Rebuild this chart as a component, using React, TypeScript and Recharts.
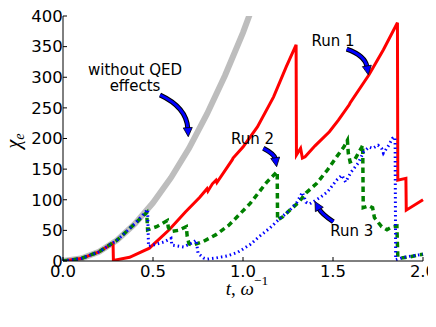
import React from 'react';
import { LineChart, Line, XAxis, YAxis, ReferenceLine, ReferenceDot, Label } from 'recharts';

const tTicks = [0, 0.5, 1.0, 1.5, 2.0];
const chiTicks = [0, 50, 100, 150, 200, 250, 300, 350, 400];

// without QED effects
const noQedT = [0, 0.1, 0.2, 0.3, 0.4, 0.5, 0.6, 0.7, 0.8, 0.9, 1.0, 1.1];
const noQedChi = [0, 4, 15, 34, 61, 95, 136, 184, 240, 303, 373, 452];

// Run 1 (red, solid)
const run1T = [0, 0.1, 0.2, 0.278, 0.28, 0.37, 0.48, 0.59, 0.68, 0.76, 0.8, 0.805, 0.83, 0.85, 0.855, 0.94, 0.945, 1.0, 1.08, 1.17, 1.24, 1.295, 1.297, 1.32, 1.33, 1.345, 1.4, 1.48, 1.53, 1.59, 1.595, 1.7, 1.78, 1.858, 1.86, 1.905, 1.907, 2.0];
const run1Chi = [0, 4, 15, 29, 1, 6, 21, 51, 80, 104, 118, 114, 126, 132, 128, 165, 168, 186, 219, 268, 317, 353, 173, 184, 168, 170, 188, 211, 230, 255, 258, 304, 345, 389, 132, 135, 83, 100];

// Run 2 (green, dashed)
const run2T = [0, 0.1, 0.2, 0.3, 0.4, 0.465, 0.47, 0.52, 0.58, 0.585, 0.6, 0.64, 0.685, 0.69, 0.7, 0.72, 0.78, 0.85, 0.92, 0.98, 1.04, 1.085, 1.13, 1.17, 1.19, 1.192, 1.22, 1.26, 1.31, 1.35, 1.41, 1.47, 1.52, 1.56, 1.58, 1.585, 1.595, 1.62, 1.66, 1.665, 1.668, 1.7, 1.72, 1.73, 1.77, 1.8, 1.83, 1.855, 1.86, 1.88, 1.93, 1.98, 2.0];
const run2Chi = [0, 4, 15, 34, 61, 79, 51, 56, 66, 55, 48, 50, 56, 40, 28, 26, 32, 43, 58, 76, 94, 111, 128, 140, 146, 67, 72, 83, 96, 111, 127, 149, 170, 186, 197, 176, 162, 165, 186, 189, 87, 90, 87, 71, 56, 51, 56, 57, 6, 5, 7, 10, 11];

// Run 3 (blue, dotted)
const run3T = [0, 0.1, 0.2, 0.3, 0.4, 0.47, 0.475, 0.5, 0.56, 0.6, 0.605, 0.67, 0.72, 0.74, 0.75, 0.78, 0.8, 0.85, 0.91, 0.97, 1.04, 1.09, 1.15, 1.2, 1.26, 1.3, 1.33, 1.35, 1.37, 1.43, 1.47, 1.52, 1.55, 1.57, 1.6, 1.64, 1.67, 1.7, 1.72, 1.75, 1.77, 1.78, 1.81, 1.83, 1.845, 1.848, 1.88, 1.91, 1.98, 2.0];
const run3Chi = [0, 4, 15, 34, 61, 84, 24, 26, 31, 37, 26, 23, 30, 34, 13, 5, 3, 5, 8, 14, 27, 40, 54, 68, 83, 96, 112, 96, 93, 104, 113, 132, 140, 129, 145, 160, 178, 186, 184, 189, 184, 176, 189, 200, 202, 2, 5, 7, 10, 11];

// annotations: text anchor (center, baseline) and arrow tail -> tip, in data units
const noteText = [['without QED', 'effects'], ['Run 1'], ['Run 2'], ['Run 3']];
const noteT = [0.4, 1.5, 1.053, 1.604];
const noteChi = [304, 351, 191, 41];
const arrowFrom = [[0.539, 271], [1.576, 346], [1.113, 184], [1.502, 64]];
const arrowTo = [[0.696, 203], [1.696, 304], [1.187, 154], [1.4, 97]];
const arrowBend = [0.3, 0.3, 0.25, 0.12];

const toPoints = (ts: number[], vs: number[]) => ts.map((t, i) => ({ t, chi: vs[i] }));

const sans = 'DejaVu Sans, sans-serif';
const mathFont = 'Liberation Serif, DejaVu Serif, serif';

const curvedArrow = (bend: number) => (p: any) => {
  const { x1, y1, x2, y2 } = p;
  const dx = x2 - x1;
  const dy = y2 - y1;
  const cx = (x1 + x2) / 2 + dy * bend;
  const cy = (y1 + y2) / 2 - dx * bend;
  let ux = x2 - cx;
  let uy = y2 - cy;
  const len = Math.hypot(ux, uy) || 1;
  ux /= len;
  uy /= len;
  const head = 9;
  const half = 4.5;
  const bx = x2 - ux * head;
  const by = y2 - uy * head;
  const body = `M${x1},${y1} Q${cx},${cy} ${bx + ux},${by + uy}`;
  const tip = `M${x2},${y2} L${bx - uy * half},${by + ux * half} L${bx + uy * half},${by - ux * half} Z`;
  return (
    <g>
      <path d={body} fill="none" stroke="#000" strokeWidth={5} />
      <path d={body} fill="none" stroke="#0000ff" strokeWidth={3} />
      <path d={tip} fill="#0000ff" stroke="#000" strokeWidth={0.8} />
    </g>
  );
};

const noteShape = (lines: string[]) => (p: any) => (
  <text x={p.cx} y={p.cy} textAnchor="middle" fontFamily={sans} fontSize={15} fill="#000">
    {lines.map((s, i) => (
      <tspan key={i} x={p.cx} dy={i === 0 ? 0 : 16}>{s}</tspan>
    ))}
  </text>
);

const XTitle = (props: any) => {
  const vb = props.viewBox || { x: 55, y: 253, width: 360, height: 57 };
  return (
    <text x={vb.x + vb.width / 2 + 4} y={vb.y + 34} textAnchor="middle" fontFamily={mathFont} fontSize={19} fill="#000">
      <tspan fontStyle="italic">t</tspan>
      <tspan>, </tspan>
      <tspan fontStyle="italic">ω</tspan>
      <tspan fontSize={13.5} dy={-10}>−1</tspan>
    </text>
  );
};

const YTitle = (props: any) => {
  const vb = props.viewBox || { x: 0, y: 8, width: 55, height: 245 };
  const x = vb.x + 12;
  const y = vb.y + vb.height / 2 + 2.5;
  return (
    <text x={x} y={y} transform={`rotate(-90, ${x}, ${y})`} textAnchor="middle" fontFamily={mathFont} fontSize={20} fill="#000">
      <tspan fontStyle="italic">χ</tspan>
      <tspan fontStyle="italic" fontSize={14} dy={4}>e</tspan>
    </text>
  );
};

const tickStyle = { fontSize: 16.5, fill: '#000', fontFamily: sans };

export default function App() {
  return (
    <div style={{ width: 428, height: 310 }}>
      <LineChart width={428} height={310} margin={{ top: 8, right: 13, bottom: 0, left: 0 }}>
        <XAxis
          dataKey="t"
          type="number"
          domain={[0, 2]}
          ticks={tTicks}
          tickFormatter={(v: number) => v.toFixed(1)}
          height={57}
          tickSize={-4}
          tickMargin={8}
          axisLine={{ stroke: '#000' }}
          tickLine={{ stroke: '#000' }}
          tick={tickStyle}
          interval={0}
        >
          <Label content={XTitle} />
        </XAxis>
        <XAxis
          xAxisId="top"
          orientation="top"
          dataKey="t"
          type="number"
          domain={[0, 2]}
          ticks={tTicks}
          height={0}
          tickSize={-4}
          tick={false}
          axisLine={{ stroke: '#000' }}
          tickLine={{ stroke: '#000' }}
        />
        <YAxis
          type="number"
          domain={[0, 400]}
          ticks={chiTicks}
          allowDataOverflow
          width={55}
          tickSize={-4}
          tickMargin={4.3}
          axisLine={{ stroke: '#000' }}
          tickLine={{ stroke: '#000' }}
          tick={tickStyle}
          interval={0}
        >
          <Label content={YTitle} />
        </YAxis>
        <YAxis
          yAxisId="right"
          orientation="right"
          type="number"
          domain={[0, 400]}
          ticks={chiTicks}
          width={0}
          tickSize={-4}
          tick={false}
          axisLine={{ stroke: '#000' }}
          tickLine={{ stroke: '#000' }}
        />

        <Line data={toPoints(noQedT, noQedChi)} dataKey="chi" type="linear" stroke="#bdbdbd" strokeWidth={6} dot={false} isAnimationActive={false} />
        <Line data={toPoints(run1T, run1Chi)} dataKey="chi" type="linear" stroke="#ff0000" strokeWidth={3} dot={false} isAnimationActive={false} />
        <Line data={toPoints(run2T, run2Chi)} dataKey="chi" type="linear" stroke="#008000" strokeWidth={3.5} strokeDasharray="5.5 4" dot={false} isAnimationActive={false} />
        <Line data={toPoints(run3T, run3Chi)} dataKey="chi" type="linear" stroke="#0000ff" strokeWidth={3} strokeDasharray="1.5 3" dot={false} isAnimationActive={false} />

        {arrowFrom.map((from, i) => (
          <ReferenceLine
            key={`arrow-${i}`}
            segment={[{ x: from[0], y: from[1] }, { x: arrowTo[i][0], y: arrowTo[i][1] }]}
            shape={curvedArrow(arrowBend[i])}
            ifOverflow="visible"
          />
        ))}
        {noteText.map((lines, i) => (
          <ReferenceDot
            key={`note-${i}`}
            x={noteT[i]}
            y={noteChi[i]}
            r={0}
            ifOverflow="visible"
            shape={noteShape(lines)}
          />
        ))}
      </LineChart>
    </div>
  );
}
